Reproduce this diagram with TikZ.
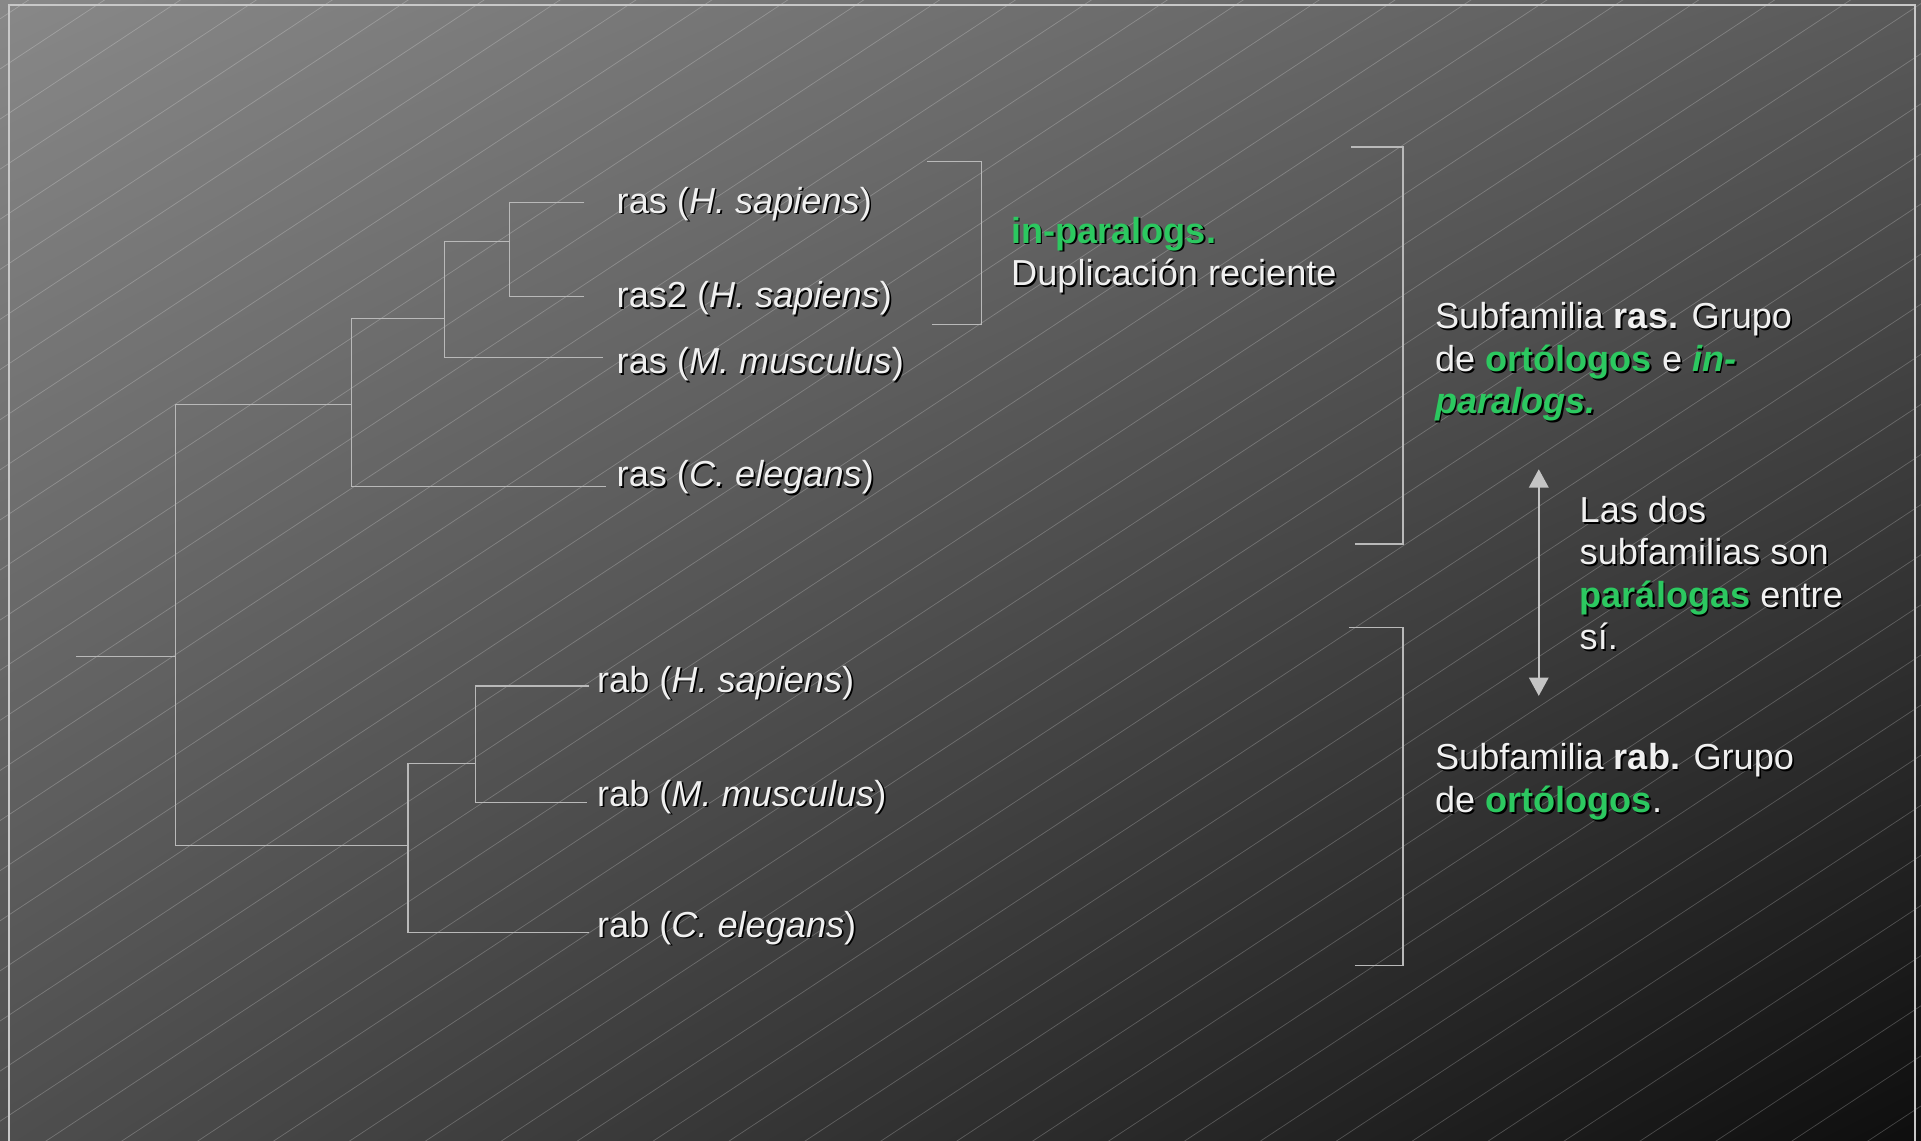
\documentclass[tikz,border=0pt]{standalone}
\usepackage{fontspec}
\setmainfont{Liberation Sans}
\usetikzlibrary{arrows.meta,shadings}
\definecolor{hlgreen}{RGB}{44,200,96}
\definecolor{txt}{RGB}{240,240,240}
\definecolor{linec}{RGB}{185,185,185}
\definecolor{arrowc}{RGB}{196,196,196}
\definecolor{bordc}{RGB}{200,200,200}
\definecolor{bgUL}{RGB}{136,136,136}
\definecolor{bgUR}{RGB}{90,90,90}
\definecolor{bgLL}{RGB}{78,78,78}
\definecolor{bgLR}{RGB}{14,14,14}
\def\hlc{hlgreen}
\newcommand\hl[1]{{\color{\hlc}\bfseries #1}}
\newcommand\bw[1]{{\bfseries #1}}
\newcommand\sh[1]{\leavevmode\rlap{\def\hlc{black}\color{black}\kern0.7pt\raisebox{-0.7pt}{#1}}#1}
\tikzset{
  tree/.style={draw=linec, line width=0.5pt},
  brk/.style={draw=linec, line width=0.6pt},
  lbl/.style={anchor=base west, inner sep=0pt, text=txt, font=\fontsize{14.75}{17.35}\selectfont},
  blk/.style={anchor=north west, inner sep=0pt, text=txt, align=left, font=\fontsize{14.75}{17.35}\selectfont},
  bgline/.style={draw=white, draw opacity=0.22, line width=0.3pt},
}
\begin{document}
\begin{tikzpicture}[x=0.5pt,y=-0.5pt]
\useasboundingbox (0,0) rectangle (1568,931);
% background
\shade[upper left=bgUL, upper right=bgUR, lower left=bgLL, lower right=bgLR] (0,0) rectangle (1568,931);
\begin{scope}
  \clip (0,0) rectangle (1568,931);
  \foreach \k in {0,...,49} \draw[bgline] (0,{15.4+40.9*\k}) -- (1568,{15.4+40.9*\k-1035});
  \draw[draw=bordc, line width=0.8pt] (7,4) rectangle (1563,980);
\end{scope}
% tree coordinates
\coordinate (stub) at (62,536);
\coordinate (root) at (143,536);
\coordinate (A) at (287,330);
\coordinate (A1) at (363,260);
\coordinate (A2) at (416,197);
\coordinate (B) at (333,690);
\coordinate (B1) at (388,623);
\coordinate (e1) at (477,165);
\coordinate (e2) at (477,242);
\coordinate (e3) at (492,292);
\coordinate (e4) at (495,397);
\coordinate (e5) at (481,560);
\coordinate (e6) at (479,655);
\coordinate (e7) at (481,761);
% tree
\draw[tree] (stub) -- (root);
\draw[tree] (A) -| (root) |- (B);
\draw[tree] (A1) -| (A) |- (e4);
\draw[tree] (A2) -| (A1) |- (e3);
\draw[tree] (e1) -| (A2) |- (e2);
\draw[tree] (B1) -| (B) |- (e7);
\draw[tree] (e5) -| (B1) |- (e6);
% leaf labels
\node[lbl] (l1) at (503,174) {\sh{ras (\textit{H. sapiens})}};
\node[lbl] (l2) at (503,251) {\sh{ras2 (\textit{H. sapiens})}};
\node[lbl] (l3) at (503,305) {\sh{ras (\textit{M. musculus})}};
\node[lbl] (l4) at (503,397) {\sh{ras (\textit{C. elegans})}};
\node[lbl] (l5) at (487,565) {\sh{rab (\textit{H. sapiens})}};
\node[lbl] (l6) at (487,658) {\sh{rab (\textit{M. musculus})}};
\node[lbl] (l7) at (487,765) {\sh{rab (\textit{C. elegans})}};
% brackets
\coordinate (ip1) at (757,132); \coordinate (ip2) at (801,265); \coordinate (ip3) at (761,265);
\draw[brk] (ip1) -| (ip2) -- (ip3);
\coordinate (rs1) at (1103,120); \coordinate (rs2) at (1145,444); \coordinate (rs3) at (1106,444);
\draw[brk] (rs1) -| (rs2) -- (rs3);
\coordinate (rb1) at (1101,512); \coordinate (rb2) at (1145,788); \coordinate (rb3) at (1106,788);
\draw[brk] (rb1) -| (rb2) -- (rb3);
% annotations
\node[blk] (inp) at (825,174) {\rule{0pt}{12pt}\sh{\hl{in-paralogs.}}\\\sh{Duplicación reciente}};
\node[blk] (ras) at (1171,244) {\rule{0pt}{12pt}\sh{Subfamilia \bw{ras.} Grupo}\\\sh{de \hl{ortólogos} e \hl{\itshape in-}}\\\sh{\hl{\itshape paralogs.}}};
\node[blk] (par) at (1289,402) {\rule{0pt}{12pt}\sh{Las dos}\\\sh{subfamilias son}\\\sh{\hl{parálogas} entre}\\\sh{sí.}};
\node[blk] (rab) at (1171,604) {\rule{0pt}{12pt}\sh{Subfamilia \bw{rab.} Grupo}\\\sh{de \hl{ortólogos}.}};
% arrow
\coordinate (at) at (1256,383);
\coordinate (ab) at (1256,568);
\draw[{Triangle[width=8pt,length=7.5pt]}-{Triangle[width=8pt,length=7.5pt]}, draw=arrowc, line width=0.6pt] (at) -- (ab);
\end{tikzpicture}
\end{document}
